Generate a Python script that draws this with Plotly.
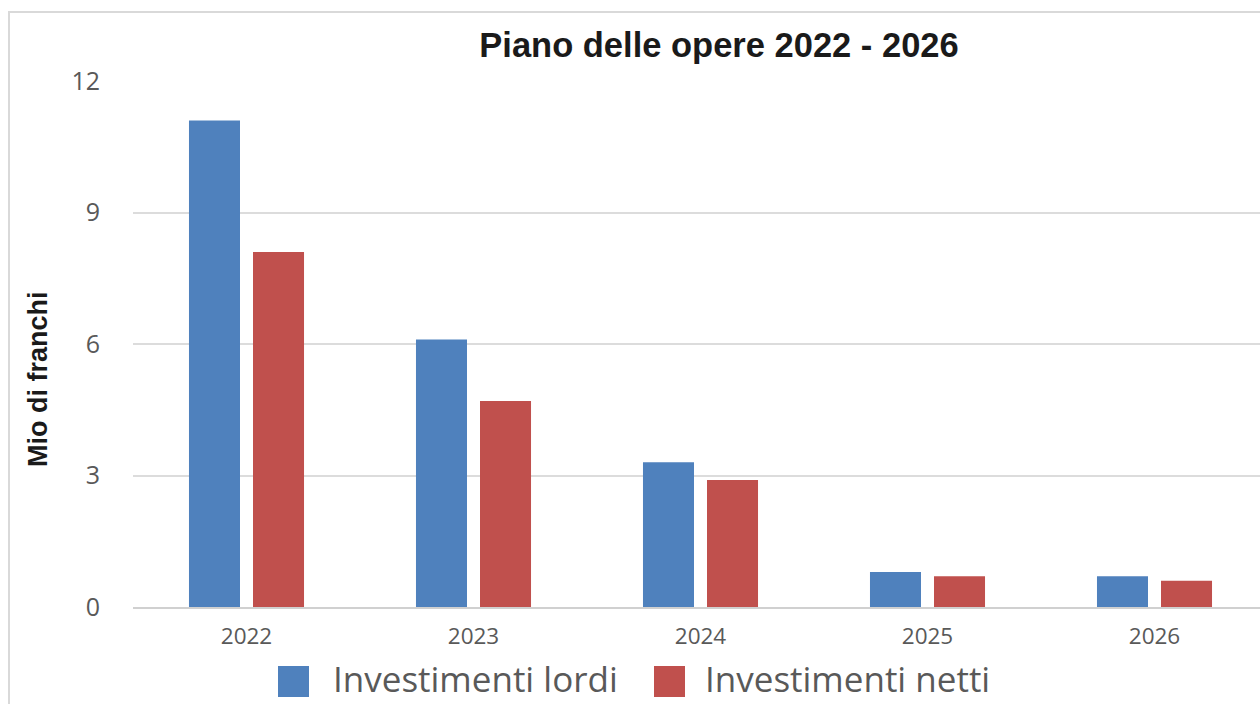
import plotly.graph_objects as go

years = ["2022", "2023", "2024", "2025", "2026"]
lordi = [11.1, 6.1, 3.3, 0.8, 0.7]
netti = [8.1, 4.7, 2.9, 0.7, 0.6]
series_names = ["Investimenti lordi", "Investimenti netti"]
colors = ["#4F81BD", "#C0504D"]
y_ticks = [0, 3, 6, 9, 12]
title_text = "Piano delle opere 2022 - 2026"
y_title = "Mio di franchi"

W, H = 1260, 704
L, R, T, B = 133, 0, 81, 97
pw, ph = W - L - R, H - T - B

def px2x(px):
    return (px - L) / pw

def py2y(py):
    return (H - B - py) / ph

fig = go.Figure()
for name, vals, col in zip(series_names, [lordi, netti], colors):
    fig.add_trace(go.Bar(x=years, y=vals, name=name, marker_color=col,
                         marker_line_width=0, showlegend=False))

xtick_font = dict(family="Open Sans, sans-serif", size=22.5, color="#595959")
ytick_font = dict(family="Open Sans, sans-serif", size=25, color="#595959")

fig.update_layout(
    width=W, height=H,
    margin=dict(l=L, r=R, t=T, b=B),
    paper_bgcolor="white", plot_bgcolor="white",
    barmode="group", bargap=0.436, bargroupgap=0.203,
    title=dict(text="<b>" + title_text + "</b>", x=719 / W,
               xanchor="center", y=1 - 45 / H, yanchor="middle",
               font=dict(family="Arial, Liberation Sans, sans-serif", size=34.5, color="#1a1a1a")),
    xaxis=dict(type="category", range=[-0.5, -0.5 + pw / 227], showgrid=False,
               showline=True, linecolor="#D0D0D0", linewidth=2,
               tickfont=xtick_font, ticks="", ticklabelstandoff=8),
    yaxis=dict(range=[0, 12], tickvals=y_ticks, showgrid=True, gridcolor="#DCDCDC",
               gridwidth=2, zeroline=False, showline=False, tickfont=ytick_font,
               ticks="", ticklabelstandoff=32),
    font=dict(family="Open Sans, sans-serif"),
)

# y-axis title
fig.add_annotation(text="<b>" + y_title + "</b>", xref="paper", yref="paper",
                   x=px2x(38), y=py2y(379), textangle=-90, showarrow=False,
                   xanchor="center", yanchor="middle",
                   font=dict(family="Arial, Liberation Sans, sans-serif", size=27, color="#1a1a1a"))

# chart border (cropped chart frame)
fig.add_shape(type="rect", xref="paper", yref="paper",
              x0=px2x(9), x1=px2x(1300), y0=py2y(760), y1=py2y(12),
              line=dict(color="#D9D9D9", width=2), fillcolor="rgba(0,0,0,0)", layer="below")

# legend
leg_sq = [(278, 309), (654, 685)]
leg_tx = [332, 704]
for (a, b), tx, name, col in zip(leg_sq, leg_tx, series_names, colors):
    fig.add_shape(type="rect", xref="paper", yref="paper",
                  x0=px2x(a), x1=px2x(b), y0=py2y(697), y1=py2y(666),
                  line_width=0, fillcolor=col)
    fig.add_annotation(text=name, xref="paper", yref="paper", x=px2x(tx), y=py2y(703),
                       xanchor="left", yanchor="bottom", showarrow=False, borderpad=0,
                       font=dict(family="Open Sans, sans-serif", size=35, color="#595959"))

fig.write_html("out.html")
